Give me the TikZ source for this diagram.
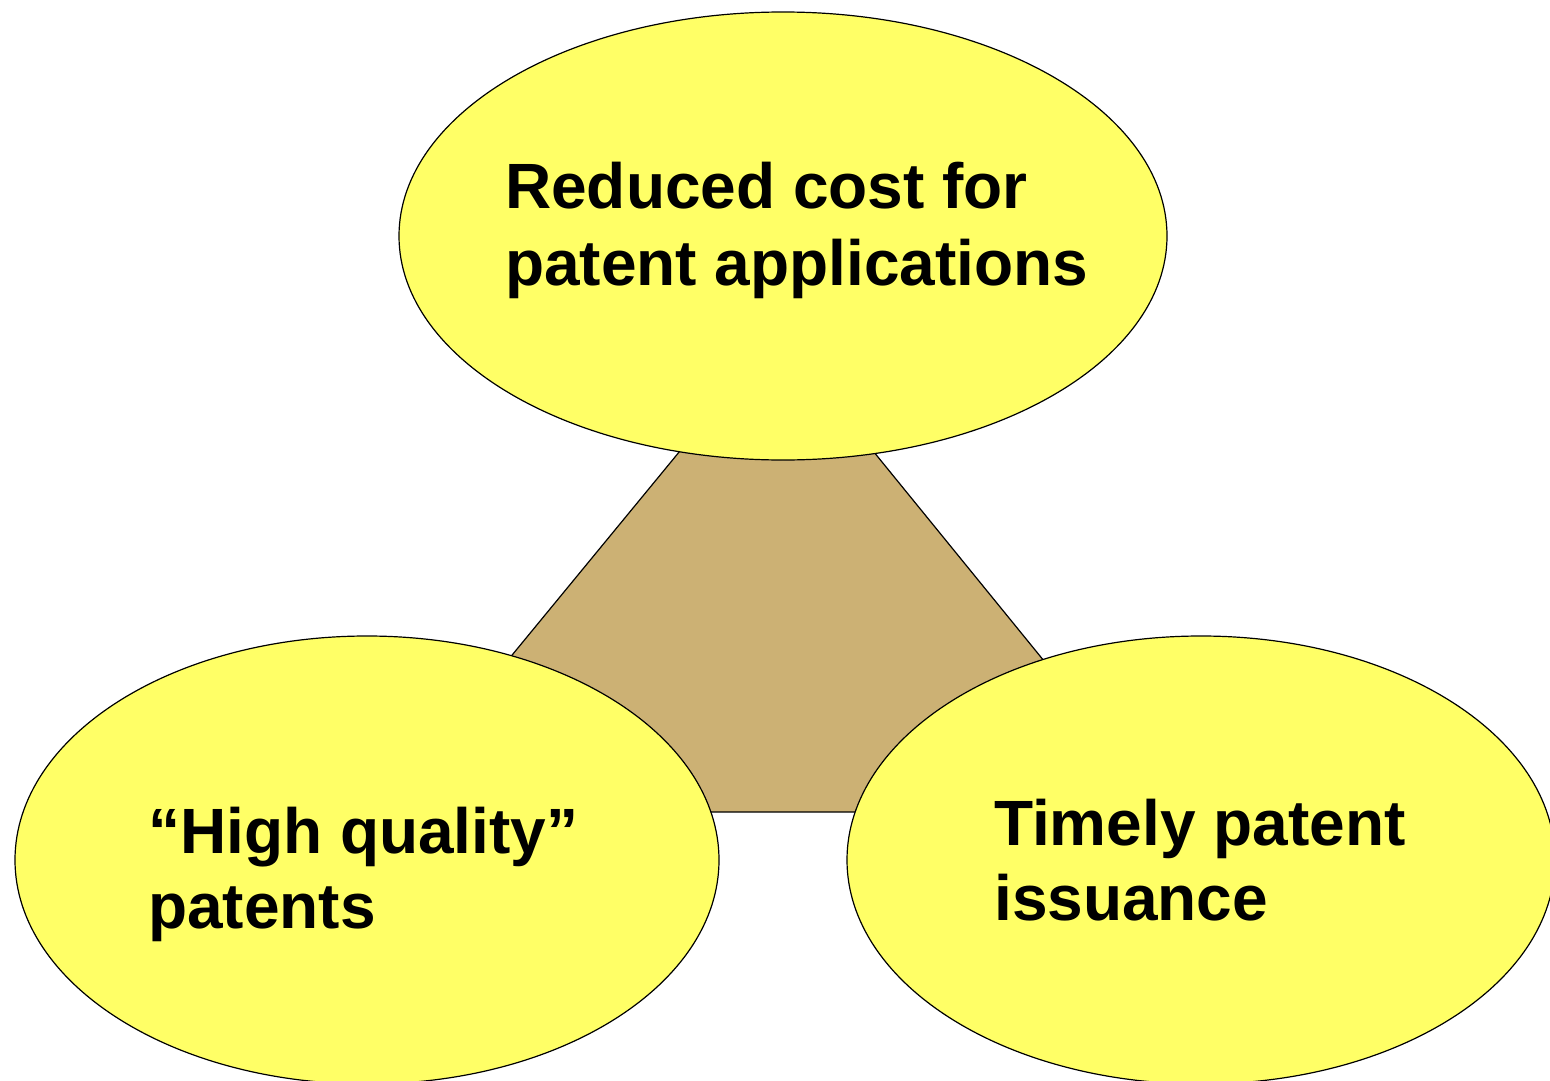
\documentclass[tikz,border=0pt]{standalone}
\usepackage{fontspec}
\setmainfont{Liberation Sans}
\usetikzlibrary{shapes.geometric}
\definecolor{ylw}{HTML}{FFFF66}
\definecolor{tan}{HTML}{CCB174}
\tikzset{
  bubble/.style={ellipse, draw=black, line width=1.2pt, fill=ylw, inner sep=0pt},
  lbl/.style={anchor=base west, inner sep=0pt, font=\fontsize{64}{76}\selectfont\bfseries},
}
\begin{document}
\begin{tikzpicture}[x=1pt,y=-1pt]
\useasboundingbox (0,0) rectangle (1550,1081);
\clip (0,0) rectangle (1550,1081);
\draw[fill=tan, line width=1.2pt, line join=miter] (777,333) -- (383,812) -- (1167,812) -- cycle;
\node[bubble, minimum width=768pt, minimum height=448pt] (cost) at (783,236) {};
\node[bubble, minimum width=704pt, minimum height=448pt] (quality) at (367,860) {};
\node[bubble, minimum width=708pt, minimum height=448pt] (timely) at (1201,860) {};
\node[lbl] (cost1) at (505,208) {Reduced cost for};
\node[lbl] (cost2) at (505,285) {patent applications};
\node[lbl] (qual1) at (148,853) {“High quality”};
\node[lbl] (qual2) at (148,928) {patents};
\node[lbl] (time1) at (994,845) {Timely patent};
\node[lbl] (time2) at (994,920) {issuance};
\end{tikzpicture}
\end{document}
